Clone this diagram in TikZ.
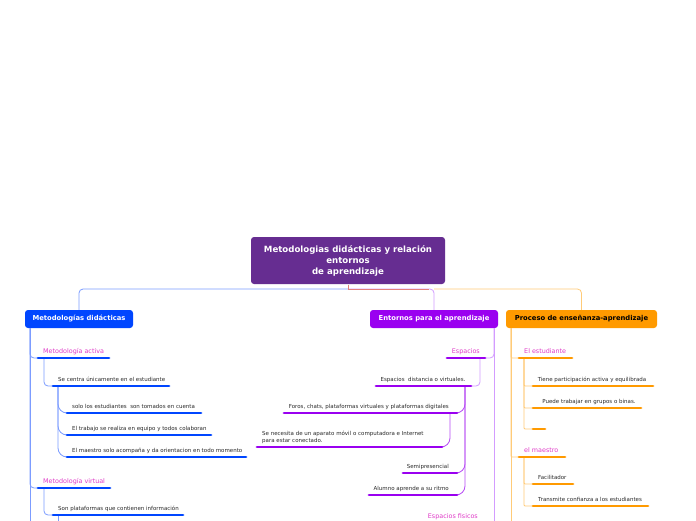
\documentclass[tikz,border=0pt]{standalone}
\usepackage{fontspec}
\setmainfont{DejaVu Sans}
\definecolor{rootc}{HTML}{662D91}
\definecolor{blu}{HTML}{0046FF}
\definecolor{blul}{HTML}{7C9CFF}
\definecolor{pur}{HTML}{9A00F0}
\definecolor{purl}{HTML}{D39CFF}
\definecolor{org}{HTML}{FF9A00}
\definecolor{orgl}{HTML}{FFCB78}
\definecolor{salm}{HTML}{E2807A}
\definecolor{mag}{HTML}{E03CC8}
\definecolor{txt}{HTML}{2A2A2A}
\tikzset{
  bx/.style={rounded corners=3pt, inner sep=0pt, text=white, font=\bfseries\fontsize{6.8}{8}\selectfont},
  hd/.style={inner sep=0pt, text=mag, font=\fontsize{6.4}{7}\selectfont},
  lf/.style={inner sep=0pt, text=txt, font=\fontsize{5.5}{7}\selectfont},
  ul/.style={line width=2.8pt, line cap=round},
  cn/.style={line width=0.8pt, rounded corners=4pt},
  cnb/.style={cn, rounded corners=9pt},
}
\begin{document}
\begin{tikzpicture}[x=1pt,y=-1pt]
\useasboundingbox[fill=white] (0,0) rectangle (696,520);

% root
\node[bx, fill=rootc, minimum width=194pt, minimum height=47pt, align=center,
  font=\bfseries\fontsize{8.6}{11}\selectfont] (root) at (348,260.5)
  {Metodologias didácticas y relación\\entornos\\de aprendizaje};

% main boxes
\node[bx, fill=blu, minimum width=108pt, minimum height=18pt] (mb) at (79,319) {Metodologías didácticas};
\node[bx, fill=pur, minimum width=128pt, minimum height=18pt] (eb) at (434,319) {Entornos para el aprendizaje};
\node[bx, fill=org, text=black, minimum width=151pt, minimum height=18pt] (pb) at (581.5,319) {Proceso de enseñanza-aprendizaje};

% root connectors
\coordinate (rj) at (348,289);
\coordinate (rs) at (348,284.5);
\draw[cn, blul] (rj) -| (mb.north);
\draw[cn, purl] (rj) -| (eb.north);
\draw[line width=0.8pt, salm] (rs) -- (rj) -- (429,289);
\draw[cn, orgl] (eb.north |- rj) -| (pb.north);

% ================= left branch =================
\coordinate (lv) at (30,328);
\coordinate (lvend) at (30,521);
\draw[line width=0.8pt, blul] (lv) -- (lvend);

\coordinate (a1s) at (38,358); \coordinate (a1e) at (109,358);
\coordinate (a11s) at (53,386); \coordinate (a11e) at (169,386);
\coordinate (a111s) at (67,413); \coordinate (a111e) at (201,413);
\coordinate (a112s) at (67,435); \coordinate (a112e) at (211,435);
\coordinate (a113s) at (67,457); \coordinate (a113e) at (246,457);
\coordinate (a2s) at (38,488); \coordinate (a2e) at (110,488);
\coordinate (a21s) at (53,515); \coordinate (a21e) at (183,515);
\coordinate (a21d) at (58,521);

\draw[cn, blul] (lv) |- (a1s);
\draw[cn, blul] (lv) |- (a2s);
\draw[cn, blul] (a1s -| 44,358) |- (a11s);
\draw[cnb, blul] (a11s -| 58,386) |- (a111s);
\draw[cnb, blul] (a11s -| 58,386) |- (a112s);
\draw[cnb, blul] (a11s -| 58,386) |- (a113s);
\draw[cn, blul] (a2s -| 44,488) |- (a21s);
\draw[line width=0.8pt, blul] (a21s -| 58,515) -- (a21d);

\foreach \u in {a1,a11,a111,a112,a113,a2,a21} {\draw[ul, blu] (\u s) -- (\u e);}

\node[hd, anchor=base west] (a1) at (43,353.5) {Metodología activa};
\node[lf, anchor=base west] (a11) at (58,381) {Se centra únicamente en el estudiante};
\node[lf, anchor=base west] (a111) at (72,408) {solo los estudiantes\ \ son tomados en cuenta};
\node[lf, anchor=base west] (a112) at (72,430) {El trabajo se realiza en equipo y todos colaboran};
\node[lf, anchor=base west] (a113) at (72,452) {El maestro solo acompaña y da orientacion en todo momento};
\node[hd, anchor=base west] (a2) at (43,483) {Metodología virtual};
\node[lf, anchor=base west] (a21) at (58,510) {Son plataformas que contienen información};

% ================= middle branch =================
\coordinate (mv) at (494,328);
\coordinate (mvend) at (494,521);
\draw[line width=0.8pt, purl] (mv) -- (mvend);

\coordinate (e1s) at (447,358); \coordinate (e1e) at (485,358);
\coordinate (e11s) at (376,386); \coordinate (e11e) at (471,386);
\coordinate (e111s) at (284,413); \coordinate (e111e) at (457,413);
\coordinate (e1111s) at (257,447); \coordinate (e1111e) at (442,447);
\coordinate (e112s) at (403,473); \coordinate (e112e) at (457,473);
\coordinate (e113s) at (369,495); \coordinate (e113e) at (457,495);

\draw[cn, purl] (mv) |- (e1e);
\draw[cn, purl] (480,358) |- (e11e);
\draw[cnb, pur!70!white] (465,386) |- (e111e);
\draw[cnb, pur!70!white] (465,386) |- (e112e);
\draw[cnb, pur!70!white] (465,386) |- (e113e);
\draw[cnb, pur!70!white] (450,413) |- (e1111e);

\foreach \u in {e1,e11,e111,e1111,e112,e113} {\draw[ul, pur] (\u s) -- (\u e);}

\node[hd, anchor=base east] (e1) at (480,353.5) {Espacios};
\node[lf, anchor=base] (e11) at (423,381) {Espacios\ \ distancia o virtuales.};
\node[lf, anchor=base east] (e111) at (449,408) {Foros, chats, plataformas virtuales y plataformas digitales};
\node[lf, anchor=south west, align=left] (e1111) at (262,443.5) {Se necesita de un aparato móvil o computadora e Internet\\para estar conectado.};
\node[lf, anchor=base east] (e112) at (449,468) {Semipresencial};
\node[lf, anchor=base east] (e113) at (449,490) {Alumno aprende a su ritmo};
\node[hd, anchor=base east] (e2) at (478,518.3) {Espacios fisicos};

% ================= right branch =================
\coordinate (pv) at (511,328);
\coordinate (pvend) at (511,521);
\draw[line width=0.8pt, orgl] (pv) -- (pvend);

\coordinate (p1s) at (519,358); \coordinate (p1e) at (572,358);
\coordinate (p11s) at (533,386); \coordinate (p11e) at (653,386);
\coordinate (p12s) at (533,408); \coordinate (p12e) at (641,408);
\coordinate (p13s) at (533,429); \coordinate (p13e) at (545,429);
\coordinate (p2s) at (519,457); \coordinate (p2e) at (565,457);
\coordinate (p21s) at (533,484); \coordinate (p21e) at (573,484);
\coordinate (p22s) at (533,506); \coordinate (p22e) at (648,506);

\draw[cn, orgl, rounded corners=1pt] (pv) |- (p1s);
\draw[cn, orgl, rounded corners=1pt] (pv) |- (p2s);
\draw[cn, orgl, rounded corners=1pt] (524,358) |- (p11s);
\draw[cn, orgl, rounded corners=1pt] (524,358) |- (p12s);
\draw[cn, orgl, rounded corners=1pt] (524,358) |- (p13s);
\draw[cn, orgl, rounded corners=1pt] (524,457) |- (p21s);
\draw[cn, orgl, rounded corners=1pt] (524,457) |- (p22s);

\foreach \u in {p1,p11,p12,p13,p2,p21,p22} {\draw[ul, org] (\u s) -- (\u e);}

\node[hd, anchor=base west] (p1) at (524,353.5) {El estudiante};
\node[lf, anchor=base] (p11) at (592,381) {Tiene participación activa y equilibrada};
\node[lf, anchor=base] (p12) at (589,403) {Puede trabajar en grupos o binas.};
\node[hd, anchor=base west] (p2) at (524,452.5) {el maestro};
\node[lf, anchor=base west] (p21) at (538,479) {Facilitador};
\node[lf, anchor=base west] (p22) at (538,501) {Transmite confianza a los estudiantes};
\end{tikzpicture}
\end{document}
